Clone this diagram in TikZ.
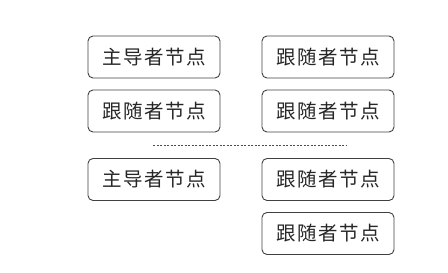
\documentclass[tikz,border=0pt]{standalone}
\usepackage{fontspec}
\newfontfamily\cjk[LetterSpace=8]{Noto Sans CJK SC}
\tikzset{
    nodebox/.style={draw=black!75, line width=0.9pt, rounded corners=5pt,
        minimum width=132pt, minimum height=42pt, inner sep=0pt,
        font=\cjk\fontsize{19.5pt}{19.5pt}\selectfont, text=black!85}
}
\begin{document}
\begin{tikzpicture}[x=1pt, y=-1pt]
        \useasboundingbox (0,0) rectangle (448,273);

        % Prima configurazione
        \node[nodebox] (lead1) at (154,57) {主导者节点};
        \node[nodebox] (foll1) at (154,111) {跟随者节点};
        \node[nodebox] (foll2) at (328,57) {跟随者节点};
        \node[nodebox] (foll3) at (328,111) {跟随者节点};

        % Separatore
        \coordinate (S1) at (153,145);
        \coordinate (S2) at (346,145);
        \draw[black!70, line width=0.6pt, dash pattern=on 2pt off 1.5pt] (S1) -- (S2);

        % Seconda configurazione
        \node[nodebox] (lead2) at (154,179.5) {主导者节点};
        \node[nodebox] (foll4) at (328,179.5) {跟随者节点};
        \node[nodebox] (foll5) at (328,233.5) {跟随者节点};
    \end{tikzpicture}
\end{document}
